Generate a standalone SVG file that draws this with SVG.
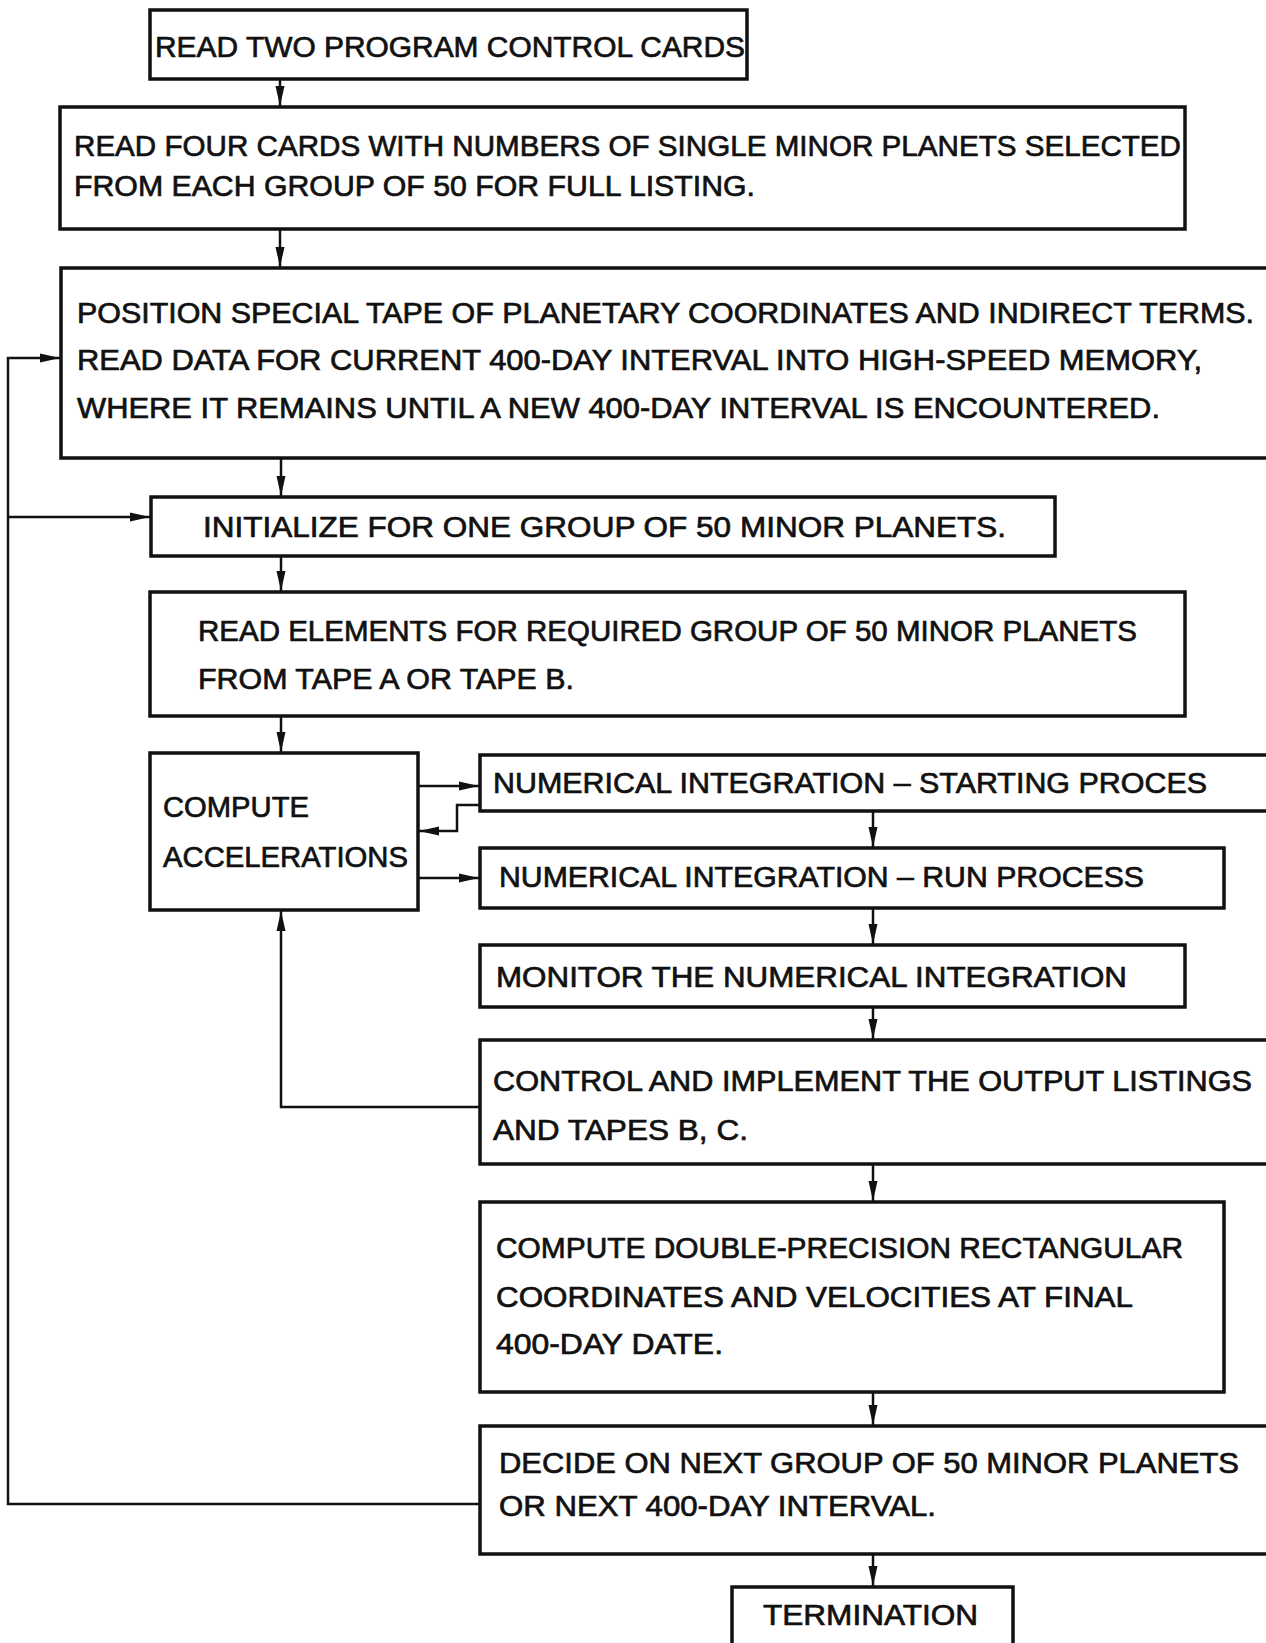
<svg xmlns="http://www.w3.org/2000/svg" width="1266" height="1643" viewBox="0 0 1266 1643">
<style>
.box{fill:none;stroke:#111;stroke-width:3.5}
.t{font-family:"Liberation Sans",Arial,sans-serif;font-size:30px;fill:#111;stroke:#111;stroke-width:0.7}
.c{fill:none;stroke:#111;stroke-width:2.5}
</style>
<defs>
<marker id="ah" markerUnits="userSpaceOnUse" markerWidth="22" markerHeight="12" refX="20" refY="6" orient="auto">
<path d="M0,1.5 L20,6 L0,10.5 Z" fill="#111"/>
</marker>
</defs>
<rect width="1266" height="1643" fill="#fff"/>

<g id="connectors">
<line class="c" x1="280" y1="79" x2="280" y2="106" marker-end="url(#ah)"/>
<line class="c" x1="280" y1="229" x2="280" y2="267" marker-end="url(#ah)"/>
<line class="c" x1="281" y1="458" x2="281" y2="496" marker-end="url(#ah)"/>
<line class="c" x1="281" y1="556" x2="281" y2="591" marker-end="url(#ah)"/>
<line class="c" x1="281" y1="716" x2="281" y2="752" marker-end="url(#ah)"/>
<line class="c" x1="418" y1="786" x2="479" y2="786" marker-end="url(#ah)"/>
<polyline class="c" points="480,805 457,805 457,831 419,831" marker-end="url(#ah)"/>
<line class="c" x1="418" y1="878" x2="479" y2="878" marker-end="url(#ah)"/>
<line class="c" x1="873" y1="811" x2="873" y2="847" marker-end="url(#ah)"/>
<line class="c" x1="873" y1="908" x2="873" y2="944" marker-end="url(#ah)"/>
<line class="c" x1="873" y1="1007" x2="873" y2="1039" marker-end="url(#ah)"/>
<polyline class="c" points="480,1107 281,1107 281,911" marker-end="url(#ah)"/>
<line class="c" x1="873" y1="1164" x2="873" y2="1201" marker-end="url(#ah)"/>
<line class="c" x1="873" y1="1392" x2="873" y2="1425" marker-end="url(#ah)"/>
<line class="c" x1="873" y1="1554" x2="873" y2="1586" marker-end="url(#ah)"/>
<polyline class="c" points="480,1504 8,1504 8,358 60,358" marker-end="url(#ah)"/>
<line class="c" x1="8" y1="517" x2="150" y2="517" marker-end="url(#ah)"/>
</g>

<g id="n1">
<rect class="box" x="150" y="10" width="597" height="69"/>
<text class="t" x="155" y="57" textLength="590" lengthAdjust="spacingAndGlyphs">READ TWO PROGRAM CONTROL CARDS</text>
</g>
<g id="n2">
<rect class="box" x="60" y="107" width="1125" height="122"/>
<text class="t" x="74" y="156" textLength="1107" lengthAdjust="spacingAndGlyphs">READ FOUR CARDS WITH NUMBERS OF SINGLE MINOR PLANETS SELECTED</text>
<text class="t" x="74" y="196" textLength="681" lengthAdjust="spacingAndGlyphs">FROM EACH GROUP OF 50 FOR FULL LISTING.</text>
</g>
<g id="n3">
<path class="box" d="M1270,268 H61 V458 H1270"/>
<text class="t" x="77" y="323" textLength="1177" lengthAdjust="spacingAndGlyphs">POSITION SPECIAL TAPE OF PLANETARY COORDINATES AND INDIRECT TERMS.</text>
<text class="t" x="77" y="370" textLength="1125" lengthAdjust="spacingAndGlyphs">READ DATA FOR CURRENT 400-DAY INTERVAL INTO HIGH-SPEED MEMORY,</text>
<text class="t" x="77" y="418" textLength="1083" lengthAdjust="spacingAndGlyphs">WHERE IT REMAINS UNTIL A NEW 400-DAY INTERVAL IS ENCOUNTERED.</text>
</g>
<g id="n4">
<rect class="box" x="151" y="497" width="904" height="59"/>
<text class="t" x="203" y="537" textLength="803" lengthAdjust="spacingAndGlyphs">INITIALIZE FOR ONE GROUP OF 50 MINOR PLANETS.</text>
</g>
<g id="n5">
<rect class="box" x="150" y="592" width="1035" height="124"/>
<text class="t" x="198" y="641" textLength="939" lengthAdjust="spacingAndGlyphs">READ ELEMENTS FOR REQUIRED GROUP OF 50 MINOR PLANETS</text>
<text class="t" x="198" y="689" textLength="376" lengthAdjust="spacingAndGlyphs">FROM TAPE A OR TAPE B.</text>
</g>
<g id="n6">
<rect class="box" x="150" y="753" width="268" height="157"/>
<text class="t" x="163" y="817" textLength="146" lengthAdjust="spacingAndGlyphs">COMPUTE</text>
<text class="t" x="163" y="867" textLength="245" lengthAdjust="spacingAndGlyphs">ACCELERATIONS</text>
</g>
<g id="n7">
<path class="box" d="M1270,755 H480 V811 H1270"/>
<text class="t" x="493" y="793" textLength="714" lengthAdjust="spacingAndGlyphs">NUMERICAL INTEGRATION – STARTING PROCES</text>
</g>
<g id="n8">
<rect class="box" x="480" y="848" width="744" height="60"/>
<text class="t" x="499" y="887" textLength="645" lengthAdjust="spacingAndGlyphs">NUMERICAL INTEGRATION – RUN PROCESS</text>
</g>
<g id="n9">
<rect class="box" x="480" y="945" width="705" height="62"/>
<text class="t" x="496" y="987" textLength="631" lengthAdjust="spacingAndGlyphs">MONITOR THE NUMERICAL INTEGRATION</text>
</g>
<g id="n10">
<path class="box" d="M1270,1040 H480 V1164 H1270"/>
<text class="t" x="493" y="1091" textLength="759" lengthAdjust="spacingAndGlyphs">CONTROL AND IMPLEMENT THE OUTPUT LISTINGS</text>
<text class="t" x="493" y="1140" textLength="255" lengthAdjust="spacingAndGlyphs">AND TAPES B, C.</text>
</g>
<g id="n11">
<rect class="box" x="480" y="1202" width="744" height="190"/>
<text class="t" x="496" y="1258" textLength="687" lengthAdjust="spacingAndGlyphs">COMPUTE DOUBLE-PRECISION RECTANGULAR</text>
<text class="t" x="496" y="1307" textLength="637" lengthAdjust="spacingAndGlyphs">COORDINATES AND VELOCITIES AT FINAL</text>
<text class="t" x="496" y="1354" textLength="227" lengthAdjust="spacingAndGlyphs">400-DAY DATE.</text>
</g>
<g id="n12">
<path class="box" d="M1270,1426 H480 V1554 H1270"/>
<text class="t" x="499" y="1473" textLength="740" lengthAdjust="spacingAndGlyphs">DECIDE ON NEXT GROUP OF 50 MINOR PLANETS</text>
<text class="t" x="499" y="1516" textLength="437" lengthAdjust="spacingAndGlyphs">OR NEXT 400-DAY INTERVAL.</text>
</g>
<g id="n13">
<path class="box" d="M732,1650 V1587 H1013 V1650"/>
<text class="t" x="763" y="1625" textLength="215" lengthAdjust="spacingAndGlyphs">TERMINATION</text>
</g>
</svg>
